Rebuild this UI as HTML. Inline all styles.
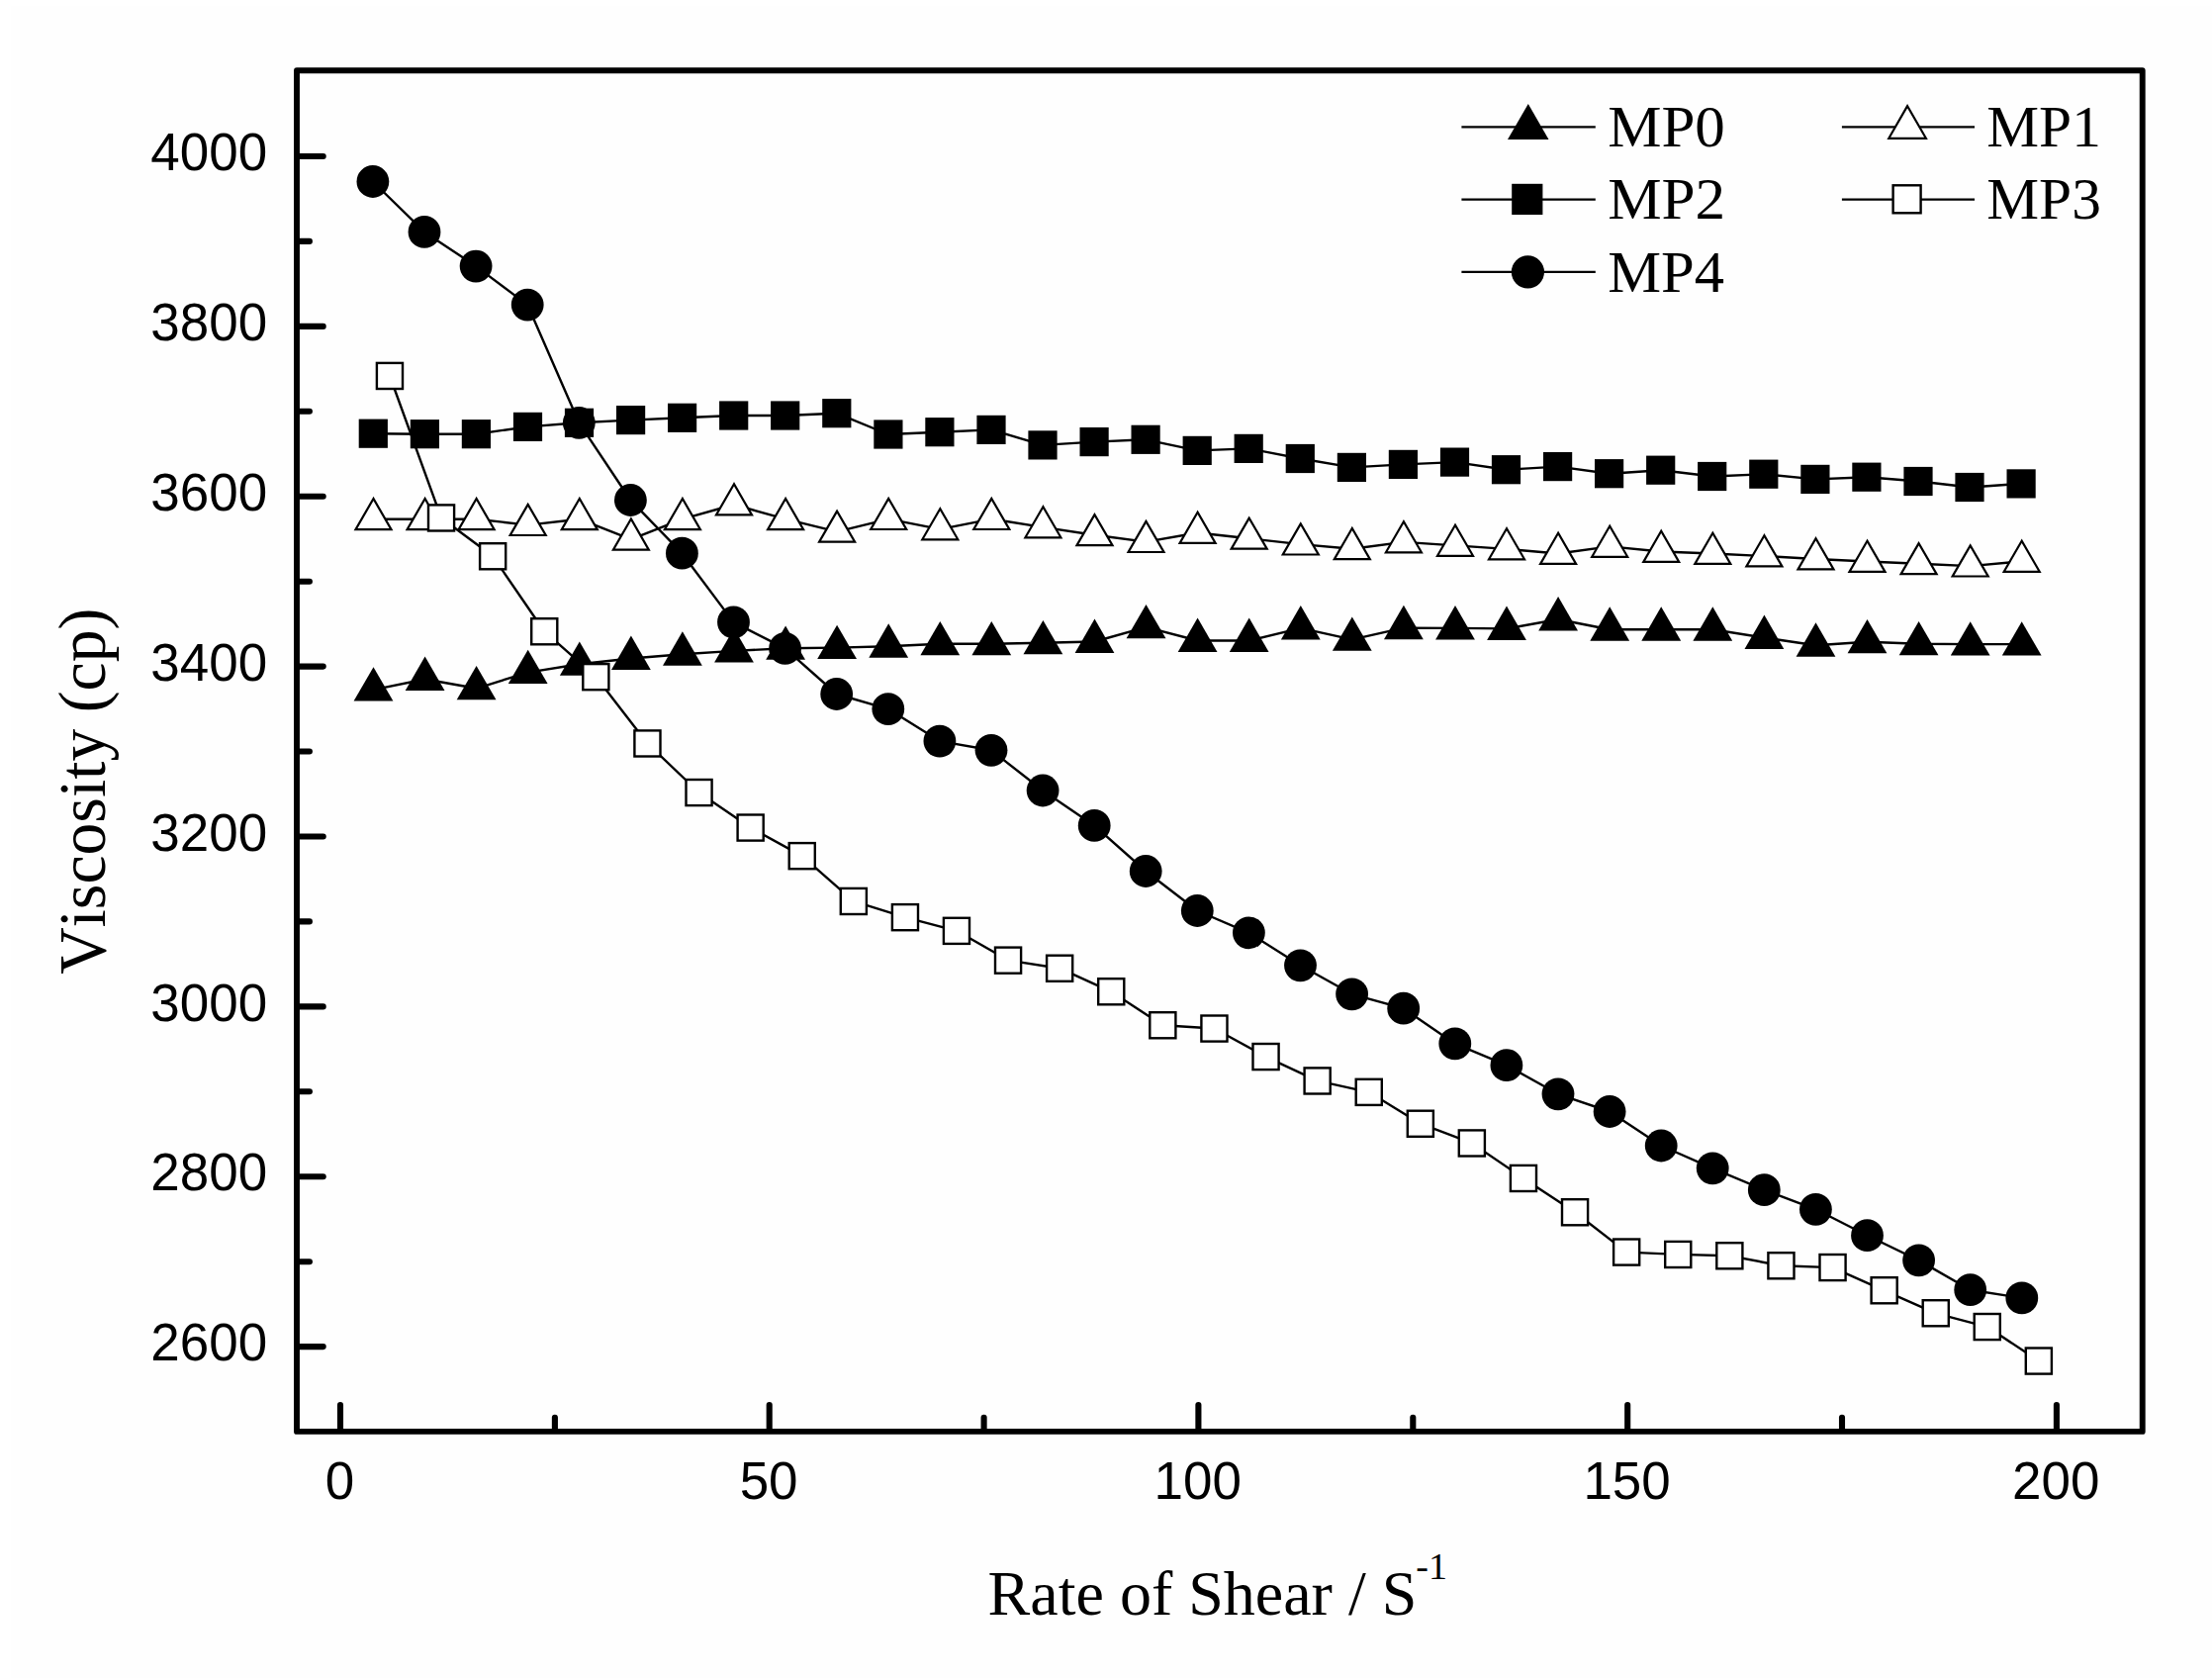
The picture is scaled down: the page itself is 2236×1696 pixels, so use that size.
<!DOCTYPE html>
<html lang="en">
<head>
<meta charset="utf-8">
<title>Viscosity vs Rate of Shear</title>
<style>
html,body{margin:0;padding:0;background:#fff;}
body{width:2236px;height:1696px;overflow:hidden;}
svg{display:block;}
.ln{fill:none;stroke:#000;stroke-width:2.4;stroke-linejoin:round;}
.tf{fill:#000;stroke:none;}
.to{fill:#fff;stroke:#000;stroke-width:2.2;stroke-linejoin:miter;}
.sf{fill:#000;stroke:none;}
.so{fill:#fff;stroke:#000;stroke-width:2.4;}
.cf{fill:#000;stroke:none;}
.fr{fill:none;stroke:#000;stroke-width:5.9;stroke-linejoin:round;}
.tk{stroke:#000;stroke-width:6.1;stroke-linecap:round;fill:none;}
.tl{font-family:"Liberation Sans",Arial,Helvetica,sans-serif;font-size:53px;fill:#000;}
.ax{font-family:"Liberation Serif","Times New Roman",Times,serif;font-size:64px;fill:#000;font-kerning:none;}
.lg{font-family:"Liberation Serif","Times New Roman",Times,serif;font-size:59.4px;fill:#000;}
</style>
</head>
<body>
<svg width="2236" height="1696" viewBox="0 0 2236 1696">
<rect x="0" y="0" width="2236" height="1696" fill="#fff"/>
<rect x="11" y="6" width="2225" height="1690" fill="#fefefe"/>

<rect class="fr" x="300" y="71.2" width="1865.7" height="1375.7"/>
<g class="tk">
<line x1="302" y1="158" x2="326.7" y2="158"/>
<line x1="302" y1="329.9" x2="326.7" y2="329.9"/>
<line x1="302" y1="501.7" x2="326.7" y2="501.7"/>
<line x1="302" y1="673.6" x2="326.7" y2="673.6"/>
<line x1="302" y1="845.5" x2="326.7" y2="845.5"/>
<line x1="302" y1="1017.4" x2="326.7" y2="1017.4"/>
<line x1="302" y1="1189.2" x2="326.7" y2="1189.2"/>
<line x1="302" y1="1361.1" x2="326.7" y2="1361.1"/>
<line x1="302" y1="243.9" x2="312.9" y2="243.9"/>
<line x1="302" y1="415.8" x2="312.9" y2="415.8"/>
<line x1="302" y1="587.7" x2="312.9" y2="587.7"/>
<line x1="302" y1="759.5" x2="312.9" y2="759.5"/>
<line x1="302" y1="931.4" x2="312.9" y2="931.4"/>
<line x1="302" y1="1103.3" x2="312.9" y2="1103.3"/>
<line x1="302" y1="1275.2" x2="312.9" y2="1275.2"/>
<line x1="344" y1="1444.9" x2="344" y2="1420.1"/>
<line x1="777.7" y1="1444.9" x2="777.7" y2="1420.1"/>
<line x1="1211.4" y1="1444.9" x2="1211.4" y2="1420.1"/>
<line x1="1645.2" y1="1444.9" x2="1645.2" y2="1420.1"/>
<line x1="2078.9" y1="1444.9" x2="2078.9" y2="1420.1"/>
<line x1="560.9" y1="1444.9" x2="560.9" y2="1432.8"/>
<line x1="994.6" y1="1444.9" x2="994.6" y2="1432.8"/>
<line x1="1428.3" y1="1444.9" x2="1428.3" y2="1432.8"/>
<line x1="1862" y1="1444.9" x2="1862" y2="1432.8"/>
</g>
<g class="tl">
<text transform="translate(270.2 172.1) scale(1 1.015)" text-anchor="end">4000</text>
<text transform="translate(270.2 344) scale(1 1.015)" text-anchor="end">3800</text>
<text transform="translate(270.2 515.8) scale(1 1.015)" text-anchor="end">3600</text>
<text transform="translate(270.2 687.7) scale(1 1.015)" text-anchor="end">3400</text>
<text transform="translate(270.2 859.6) scale(1 1.015)" text-anchor="end">3200</text>
<text transform="translate(270.2 1031.5) scale(1 1.015)" text-anchor="end">3000</text>
<text transform="translate(270.2 1203.3) scale(1 1.015)" text-anchor="end">2800</text>
<text transform="translate(270.2 1375.2) scale(1 1.015)" text-anchor="end">2600</text>
<text transform="translate(343.4 1515.4) scale(1 1.015)" text-anchor="middle">0</text>
<text transform="translate(777.1 1515.4) scale(1 1.015)" text-anchor="middle">50</text>
<text transform="translate(1210.8 1515.4) scale(1 1.015)" text-anchor="middle">100</text>
<text transform="translate(1644.6 1515.4) scale(1 1.015)" text-anchor="middle">150</text>
<text transform="translate(2078.3 1515.4) scale(1 1.015)" text-anchor="middle">200</text>
</g>
<text class="ax" x="998.6" y="1632.3" xml:space="preserve">Rate of Shear / S<tspan font-size="38" dy="-36.3" dx="-1">-1</tspan></text>
<text class="ax" transform="translate(106.3 984.8) rotate(-90) scale(1.026 1.06)" x="0" y="0">Viscosity (cp)</text>
<polyline class="ln" points="377.5,697.1 429.6,686.5 481.6,695.8 533.7,679.6 585.8,671.3 637.9,665.5 689.9,661.2 742,657.9 794.1,655.3 846.1,654.6 898.2,653.2 950.3,650.8 1002.3,650.8 1054.4,649.8 1106.5,648.5 1158.5,633.8 1210.6,647.5 1262.7,647.5 1314.8,634.9 1366.8,646.3 1418.9,634.7 1471,634.9 1523,635.4 1575.1,626 1627.2,636.2 1679.2,636.2 1731.3,636.2 1783.4,644.5 1835.5,652.2 1887.5,648.8 1939.6,650.8 1991.7,651.1 2043.7,651.1"/>
<polygon class="tf" points="377.5,674.2 357.6,708.6 397.4,708.6"/>
<polygon class="tf" points="429.6,663.6 409.7,698 449.5,698"/>
<polygon class="tf" points="481.6,672.9 461.7,707.3 501.5,707.3"/>
<polygon class="tf" points="533.7,656.7 513.8,691.1 553.6,691.1"/>
<polygon class="tf" points="585.8,648.4 565.9,682.8 605.7,682.8"/>
<polygon class="tf" points="637.9,642.6 618,677 657.8,677"/>
<polygon class="tf" points="689.9,638.3 670,672.7 709.8,672.7"/>
<polygon class="tf" points="742,635 722.1,669.4 761.9,669.4"/>
<polygon class="tf" points="794.1,632.4 774.2,666.8 814,666.8"/>
<polygon class="tf" points="846.1,631.7 826.2,666.1 866,666.1"/>
<polygon class="tf" points="898.2,630.3 878.3,664.7 918.1,664.7"/>
<polygon class="tf" points="950.3,627.9 930.4,662.3 970.2,662.3"/>
<polygon class="tf" points="1002.3,627.9 982.4,662.3 1022.2,662.3"/>
<polygon class="tf" points="1054.4,626.9 1034.5,661.3 1074.3,661.3"/>
<polygon class="tf" points="1106.5,625.6 1086.6,660 1126.4,660"/>
<polygon class="tf" points="1158.5,610.9 1138.6,645.3 1178.5,645.3"/>
<polygon class="tf" points="1210.6,624.6 1190.7,659 1230.5,659"/>
<polygon class="tf" points="1262.7,624.6 1242.8,659 1282.6,659"/>
<polygon class="tf" points="1314.8,612 1294.9,646.4 1334.7,646.4"/>
<polygon class="tf" points="1366.8,623.4 1346.9,657.8 1386.7,657.8"/>
<polygon class="tf" points="1418.9,611.8 1399,646.2 1438.8,646.2"/>
<polygon class="tf" points="1471,612 1451.1,646.4 1490.9,646.4"/>
<polygon class="tf" points="1523,612.5 1503.1,646.9 1542.9,646.9"/>
<polygon class="tf" points="1575.1,603.1 1555.2,637.5 1595,637.5"/>
<polygon class="tf" points="1627.2,613.3 1607.3,647.7 1647.1,647.7"/>
<polygon class="tf" points="1679.2,613.3 1659.3,647.7 1699.2,647.7"/>
<polygon class="tf" points="1731.3,613.3 1711.4,647.7 1751.2,647.7"/>
<polygon class="tf" points="1783.4,621.6 1763.5,656 1803.3,656"/>
<polygon class="tf" points="1835.5,629.3 1815.6,663.7 1855.4,663.7"/>
<polygon class="tf" points="1887.5,625.9 1867.6,660.3 1907.4,660.3"/>
<polygon class="tf" points="1939.6,627.9 1919.7,662.3 1959.5,662.3"/>
<polygon class="tf" points="1991.7,628.2 1971.8,662.6 2011.6,662.6"/>
<polygon class="tf" points="2043.7,628.2 2023.8,662.6 2063.6,662.6"/>
<polyline class="ln" points="377.5,524.7 429.6,524.7 481.6,524.7 533.7,530.6 585.8,524.7 637.9,545.2 689.9,524.7 742,510 794.1,524.7 846.1,537.3 898.2,524.6 950.3,534.9 1002.3,524.6 1054.4,532.9 1106.5,540.8 1158.5,547.6 1210.6,538.5 1262.7,544.3 1314.8,550.1 1366.8,554.7 1418.9,547.9 1471,551.4 1523,554.9 1575.1,559.5 1627.2,552.4 1679.2,557.5 1731.3,559.5 1783.4,562 1835.5,565 1887.5,567.5 1939.6,569.8 1991.7,572.1 2043.7,567.4"/>
<polygon class="to" points="377.5,504 359.5,535.1 395.5,535.1"/>
<polygon class="to" points="429.6,504 411.6,535.1 447.6,535.1"/>
<polygon class="to" points="481.6,504 463.6,535.1 499.6,535.1"/>
<polygon class="to" points="533.7,509.9 515.7,541 551.7,541"/>
<polygon class="to" points="585.8,504 567.8,535.1 603.8,535.1"/>
<polygon class="to" points="637.9,524.5 619.9,555.6 655.8,555.6"/>
<polygon class="to" points="689.9,504 671.9,535.1 707.9,535.1"/>
<polygon class="to" points="742,489.3 724,520.4 760,520.4"/>
<polygon class="to" points="794.1,504 776.1,535.1 812.1,535.1"/>
<polygon class="to" points="846.1,516.6 828.1,547.7 864.1,547.7"/>
<polygon class="to" points="898.2,503.9 880.2,535 916.2,535"/>
<polygon class="to" points="950.3,514.2 932.3,545.3 968.3,545.3"/>
<polygon class="to" points="1002.3,503.9 984.3,535 1020.3,535"/>
<polygon class="to" points="1054.4,512.2 1036.4,543.3 1072.4,543.3"/>
<polygon class="to" points="1106.5,520.1 1088.5,551.2 1124.5,551.2"/>
<polygon class="to" points="1158.5,526.9 1140.6,558 1176.5,558"/>
<polygon class="to" points="1210.6,517.8 1192.6,548.9 1228.6,548.9"/>
<polygon class="to" points="1262.7,523.6 1244.7,554.7 1280.7,554.7"/>
<polygon class="to" points="1314.8,529.4 1296.8,560.5 1332.8,560.5"/>
<polygon class="to" points="1366.8,534 1348.8,565.1 1384.8,565.1"/>
<polygon class="to" points="1418.9,527.2 1400.9,558.3 1436.9,558.3"/>
<polygon class="to" points="1471,530.7 1453,561.8 1489,561.8"/>
<polygon class="to" points="1523,534.2 1505,565.3 1541,565.3"/>
<polygon class="to" points="1575.1,538.8 1557.1,569.9 1593.1,569.9"/>
<polygon class="to" points="1627.2,531.7 1609.2,562.8 1645.2,562.8"/>
<polygon class="to" points="1679.2,536.8 1661.3,567.9 1697.2,567.9"/>
<polygon class="to" points="1731.3,538.8 1713.3,569.9 1749.3,569.9"/>
<polygon class="to" points="1783.4,541.3 1765.4,572.4 1801.4,572.4"/>
<polygon class="to" points="1835.5,544.3 1817.5,575.4 1853.5,575.4"/>
<polygon class="to" points="1887.5,546.8 1869.5,577.9 1905.5,577.9"/>
<polygon class="to" points="1939.6,549.1 1921.6,580.2 1957.6,580.2"/>
<polygon class="to" points="1991.7,551.4 1973.7,582.5 2009.7,582.5"/>
<polygon class="to" points="2043.7,546.7 2025.7,577.8 2061.7,577.8"/>
<polyline class="ln" points="376.9,438.2 429,438.7 481.1,438.7 533.2,431.4 585.3,427.3 637.4,424.6 689.4,422.3 741.5,420 793.6,420 845.7,417.7 897.8,439 949.9,436.7 1002,434.4 1054.1,449.9 1106.2,446.6 1158.2,444.3 1210.3,455.4 1262.4,453.4 1314.5,463.5 1366.6,472.4 1418.7,469.4 1470.8,467.1 1522.9,474.7 1575,471.6 1627.1,478.7 1679.2,475.2 1731.2,481.5 1783.3,479.2 1835.4,484.4 1887.5,482.2 1939.6,486.5 1991.7,492.5 2043.8,488.9"/>
<rect class="sf" x="362.7" y="423.6" width="29.2" height="29.2"/>
<rect class="sf" x="414.8" y="424.1" width="29.2" height="29.2"/>
<rect class="sf" x="466.8" y="424.1" width="29.2" height="29.2"/>
<rect class="sf" x="518.9" y="416.8" width="29.2" height="29.2"/>
<rect class="sf" x="570.9" y="412.7" width="29.2" height="29.2"/>
<rect class="sf" x="623" y="410" width="29.2" height="29.2"/>
<rect class="sf" x="675" y="407.7" width="29.2" height="29.2"/>
<rect class="sf" x="727.1" y="405.4" width="29.2" height="29.2"/>
<rect class="sf" x="779.1" y="405.4" width="29.2" height="29.2"/>
<rect class="sf" x="831.2" y="403.1" width="29.2" height="29.2"/>
<rect class="sf" x="883.3" y="424.4" width="29.2" height="29.2"/>
<rect class="sf" x="935.3" y="422.1" width="29.2" height="29.2"/>
<rect class="sf" x="987.4" y="419.8" width="29.2" height="29.2"/>
<rect class="sf" x="1039.4" y="435.3" width="29.2" height="29.2"/>
<rect class="sf" x="1091.5" y="432" width="29.2" height="29.2"/>
<rect class="sf" x="1143.5" y="429.7" width="29.2" height="29.2"/>
<rect class="sf" x="1195.6" y="440.8" width="29.2" height="29.2"/>
<rect class="sf" x="1247.6" y="438.8" width="29.2" height="29.2"/>
<rect class="sf" x="1299.7" y="448.9" width="29.2" height="29.2"/>
<rect class="sf" x="1351.8" y="457.8" width="29.2" height="29.2"/>
<rect class="sf" x="1403.8" y="454.8" width="29.2" height="29.2"/>
<rect class="sf" x="1455.9" y="452.5" width="29.2" height="29.2"/>
<rect class="sf" x="1507.9" y="460.1" width="29.2" height="29.2"/>
<rect class="sf" x="1560" y="457" width="29.2" height="29.2"/>
<rect class="sf" x="1612" y="464.1" width="29.2" height="29.2"/>
<rect class="sf" x="1664.1" y="460.6" width="29.2" height="29.2"/>
<rect class="sf" x="1716.1" y="466.9" width="29.2" height="29.2"/>
<rect class="sf" x="1768.2" y="464.6" width="29.2" height="29.2"/>
<rect class="sf" x="1820.3" y="469.8" width="29.2" height="29.2"/>
<rect class="sf" x="1872.3" y="467.6" width="29.2" height="29.2"/>
<rect class="sf" x="1924.4" y="471.9" width="29.2" height="29.2"/>
<rect class="sf" x="1976.4" y="477.9" width="29.2" height="29.2"/>
<rect class="sf" x="2028.5" y="474.3" width="29.2" height="29.2"/>
<polyline class="ln" points="394,380 446.1,523.5 498.2,562.3 550.3,638.2 602.4,684.1 654.5,751.4 706.5,801 758.6,836.5 810.7,865.1 862.8,910.9 914.9,927.1 967,940.8 1019.1,970.6 1071.2,978.7 1123.3,1002.3 1175.3,1036.2 1227.4,1039.5 1279.5,1068.1 1331.6,1092.4 1383.7,1103.8 1435.8,1135.7 1487.9,1155.4 1540,1190.9 1592.1,1225.3 1644.2,1265.6 1696.2,1267.9 1748.3,1269.3 1800.4,1279.2 1852.5,1281.1 1904.6,1304.3 1956.7,1327.3 2008.8,1341.1 2060.9,1375.5"/>
<rect class="so" x="380.9" y="366.9" width="26.1" height="26.1"/>
<rect class="so" x="433" y="510.4" width="26.1" height="26.1"/>
<rect class="so" x="485.1" y="549.2" width="26.1" height="26.1"/>
<rect class="so" x="537.2" y="625.2" width="26.1" height="26.1"/>
<rect class="so" x="589.3" y="671.1" width="26.1" height="26.1"/>
<rect class="so" x="641.4" y="738.4" width="26.1" height="26.1"/>
<rect class="so" x="693.5" y="788" width="26.1" height="26.1"/>
<rect class="so" x="745.6" y="823.5" width="26.1" height="26.1"/>
<rect class="so" x="797.7" y="852.1" width="26.1" height="26.1"/>
<rect class="so" x="849.8" y="897.9" width="26.1" height="26.1"/>
<rect class="so" x="901.9" y="914.1" width="26.1" height="26.1"/>
<rect class="so" x="953.9" y="927.8" width="26.1" height="26.1"/>
<rect class="so" x="1006" y="957.6" width="26.1" height="26.1"/>
<rect class="so" x="1058.1" y="965.7" width="26.1" height="26.1"/>
<rect class="so" x="1110.2" y="989.2" width="26.1" height="26.1"/>
<rect class="so" x="1162.3" y="1023.2" width="26.1" height="26.1"/>
<rect class="so" x="1214.4" y="1026.5" width="26.1" height="26.1"/>
<rect class="so" x="1266.5" y="1055" width="26.1" height="26.1"/>
<rect class="so" x="1318.6" y="1079.4" width="26.1" height="26.1"/>
<rect class="so" x="1370.7" y="1090.8" width="26.1" height="26.1"/>
<rect class="so" x="1422.8" y="1122.7" width="26.1" height="26.1"/>
<rect class="so" x="1474.8" y="1142.4" width="26.1" height="26.1"/>
<rect class="so" x="1526.9" y="1177.9" width="26.1" height="26.1"/>
<rect class="so" x="1579" y="1212.2" width="26.1" height="26.1"/>
<rect class="so" x="1631.1" y="1252.5" width="26.1" height="26.1"/>
<rect class="so" x="1683.2" y="1254.9" width="26.1" height="26.1"/>
<rect class="so" x="1735.3" y="1256.2" width="26.1" height="26.1"/>
<rect class="so" x="1787.4" y="1266.2" width="26.1" height="26.1"/>
<rect class="so" x="1839.5" y="1268" width="26.1" height="26.1"/>
<rect class="so" x="1891.6" y="1291.2" width="26.1" height="26.1"/>
<rect class="so" x="1943.7" y="1314.2" width="26.1" height="26.1"/>
<rect class="so" x="1995.7" y="1328" width="26.1" height="26.1"/>
<rect class="so" x="2047.8" y="1362.5" width="26.1" height="26.1"/>
<polyline class="ln" points="376.9,183.5 429,234.4 481.1,269.1 533.2,308.1 585.3,427.3 637.4,505.5 689.4,559.2 741.5,628.9 793.6,655.4 845.7,701.5 897.8,716.6 949.9,749.1 1002,758.3 1054.1,799 1106.2,834.4 1158.2,880.5 1210.3,920.5 1262.4,942.8 1314.5,975.8 1366.6,1004.8 1418.7,1019.2 1470.8,1054.9 1522.9,1076.7 1575,1105.8 1627.1,1123.5 1679.2,1158 1731.2,1180.8 1783.3,1202.7 1835.4,1222.3 1887.5,1248.7 1939.6,1273.9 1991.7,1303.7 2043.8,1311.9"/>
<circle class="cf" cx="376.9" cy="183.5" r="16.4"/>
<circle class="cf" cx="429" cy="234.4" r="16.4"/>
<circle class="cf" cx="481.1" cy="269.1" r="16.4"/>
<circle class="cf" cx="533.2" cy="308.1" r="16.4"/>
<circle class="cf" cx="585.3" cy="427.3" r="16.4"/>
<circle class="cf" cx="637.4" cy="505.5" r="16.4"/>
<circle class="cf" cx="689.4" cy="559.2" r="16.4"/>
<circle class="cf" cx="741.5" cy="628.9" r="16.4"/>
<circle class="cf" cx="793.6" cy="655.4" r="16.4"/>
<circle class="cf" cx="845.7" cy="701.5" r="16.4"/>
<circle class="cf" cx="897.8" cy="716.6" r="16.4"/>
<circle class="cf" cx="949.9" cy="749.1" r="16.4"/>
<circle class="cf" cx="1002" cy="758.3" r="16.4"/>
<circle class="cf" cx="1054.1" cy="799" r="16.4"/>
<circle class="cf" cx="1106.2" cy="834.4" r="16.4"/>
<circle class="cf" cx="1158.2" cy="880.5" r="16.4"/>
<circle class="cf" cx="1210.3" cy="920.5" r="16.4"/>
<circle class="cf" cx="1262.4" cy="942.8" r="16.4"/>
<circle class="cf" cx="1314.5" cy="975.8" r="16.4"/>
<circle class="cf" cx="1366.6" cy="1004.8" r="16.4"/>
<circle class="cf" cx="1418.7" cy="1019.2" r="16.4"/>
<circle class="cf" cx="1470.8" cy="1054.9" r="16.4"/>
<circle class="cf" cx="1522.9" cy="1076.7" r="16.4"/>
<circle class="cf" cx="1575" cy="1105.8" r="16.4"/>
<circle class="cf" cx="1627.1" cy="1123.5" r="16.4"/>
<circle class="cf" cx="1679.2" cy="1158" r="16.4"/>
<circle class="cf" cx="1731.2" cy="1180.8" r="16.4"/>
<circle class="cf" cx="1783.3" cy="1202.7" r="16.4"/>
<circle class="cf" cx="1835.4" cy="1222.3" r="16.4"/>
<circle class="cf" cx="1887.5" cy="1248.7" r="16.4"/>
<circle class="cf" cx="1939.6" cy="1273.9" r="16.4"/>
<circle class="cf" cx="1991.7" cy="1303.7" r="16.4"/>
<circle class="cf" cx="2043.8" cy="1311.9" r="16.4"/>
<line class="ln" x1="1477.4" y1="128.4" x2="1612.8" y2="128.4"/>
<polygon class="tf" points="1544.8,104.9 1524,140.9 1565.5,140.9"/>
<text class="lg" transform="translate(1625.2 148) scale(1.027 1)" x="0" y="0">MP0</text>
<line class="ln" x1="1861.9" y1="128.4" x2="1996" y2="128.4"/>
<polygon class="to" points="1928.1,107.1 1909.3,139.8 1946.9,139.8"/>
<text class="lg" transform="translate(2008.3 148) scale(1.0 1)" x="0" y="0">MP1</text>
<line class="ln" x1="1477.4" y1="201.6" x2="1612.8" y2="201.6"/>
<rect class="sf" x="1528.2" y="185.8" width="31.2" height="31.2"/>
<text class="lg" transform="translate(1625.2 221.2) scale(1.03 1)" x="0" y="0">MP2</text>
<line class="ln" x1="1861.9" y1="201.6" x2="1996" y2="201.6"/>
<rect class="so" x="1913.6" y="187.3" width="28" height="28"/>
<text class="lg" transform="translate(2008.3 221.2) scale(1.0 1)" x="0" y="0">MP3</text>
<line class="ln" x1="1477.4" y1="274.9" x2="1612.8" y2="274.9"/>
<circle class="cf" cx="1544.4" cy="274.9" r="16.6"/>
<text class="lg" transform="translate(1625.2 294.5) scale(1.02 1)" x="0" y="0">MP4</text>
</svg>
</body>
</html>
